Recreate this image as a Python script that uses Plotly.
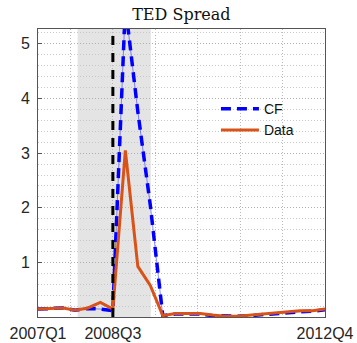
import plotly.graph_objects as go

quarters = ["2007Q1", "2007Q2", "2007Q3", "2007Q4", "2008Q1", "2008Q2", "2008Q3", "2008Q4",
            "2009Q1", "2009Q2", "2009Q3", "2009Q4", "2010Q1", "2010Q2", "2010Q3", "2010Q4",
            "2011Q1", "2011Q2", "2011Q3", "2011Q4", "2012Q1", "2012Q2", "2012Q3", "2012Q4"]
data_vals = [0.15, 0.16, 0.17, 0.13, 0.17, 0.27, 0.15, 3.05,
             0.93, 0.58, 0.03, 0.07, 0.07, 0.07, 0.04, 0.02,
             0.02, 0.04, 0.06, 0.07, 0.09, 0.12, 0.12, 0.15]
cf_vals = [0.15, 0.16, 0.17, 0.13, 0.16, 0.15, 0.12, 5.70,
           3.76, 2.05, 0.03, 0.06, 0.06, 0.06, 0.03, 0.02,
           0.02, 0.03, 0.05, 0.06, 0.08, 0.10, 0.11, 0.14]
tick_labels = ["2007Q1", "2008Q3", "2012Q4"]
recession_start = 4.18   # in quarter-index units
recession_end = 10.04
event_quarter = "2008Q3"

x = list(range(1, len(quarters) + 1))
tick_pos = [quarters.index(t) + 1 for t in tick_labels]
event_x = quarters.index(event_quarter) + 1

fig = go.Figure()
fig.add_trace(go.Scatter(x=x, y=cf_vals, mode="lines", showlegend=False,
                         line=dict(color="rgba(0,0,255,0.45)", width=1), hoverinfo="skip"))
fig.add_trace(go.Scatter(x=x, y=cf_vals, mode="lines", name="CF",
                         line=dict(color="#0000FF", width=3.5, dash="10px,6px")))
fig.add_trace(go.Scatter(x=x, y=data_vals, mode="lines", name="Data",
                         line=dict(color="#D95319", width=3)))

fig.add_shape(type="rect", xref="x", yref="paper", x0=recession_start, x1=recession_end,
              y0=0, y1=1, fillcolor="#e4e4e4", line=dict(width=0), layer="below")
fig.add_shape(type="line", xref="x", yref="paper", x0=event_x, x1=event_x, y0=0, y1=1,
              line=dict(color="black", width=3, dash="9px,8px"), layer="above")

fig.update_layout(
    width=357, height=343,
    margin=dict(l=38, r=32, t=29, b=26, autoexpand=False),
    paper_bgcolor="white", plot_bgcolor="rgba(0,0,0,0)",
    title=dict(text="TED Spread", x=0.508, xanchor="center", y=0.958, yanchor="middle",
               font=dict(family="DejaVu Serif", size=16, color="#111")),
    font=dict(family="Liberation Sans, Arial", size=16, color="#262626"),
    legend=dict(x=0.62, y=0.777, xanchor="left", yanchor="top", bgcolor="rgba(0,0,0,0)",
                itemwidth=38, font=dict(size=14, color="#111"), tracegroupgap=0),
    showlegend=True,
)
fig.update_xaxes(range=[1, 24], tickmode="array", tickvals=tick_pos, ticktext=tick_labels,
                 automargin=False, ticklabelstandoff=2,
                 showgrid=False, zeroline=False, showline=True, linecolor="#555", linewidth=1,
                 mirror=True, ticks="inside", ticklen=4, tickcolor="#555",
                 tickfont=dict(size=16, color="#262626"),
                 minor=dict(tickmode="linear", tick0=event_x, dtick=3.4, showgrid=True,
                            griddash="1px,2px", gridcolor="#b8b8b8", gridwidth=1, ticks=""))
fig.update_yaxes(range=[0.005, 5.27], tickmode="array", tickvals=[1, 2, 3, 4, 5],
                 automargin=False, ticklabelstandoff=4,
                 showgrid=True, griddash="1px,2px", gridcolor="#b0b0b0", gridwidth=1,
                 zeroline=False, showline=True, linecolor="#555", linewidth=1, mirror=True,
                 ticks="inside", ticklen=4, tickcolor="#555",
                 tickfont=dict(size=16, color="#262626"),
                 minor=dict(dtick=0.2, showgrid=True, griddash="1px,2px", gridcolor="#c8c8c8",
                            gridwidth=1, ticks=""))

fig.write_html("out.html", config={"displayModeBar": False},
               post_script="document.body.style.margin='0px';document.body.style.overflow='hidden';")
